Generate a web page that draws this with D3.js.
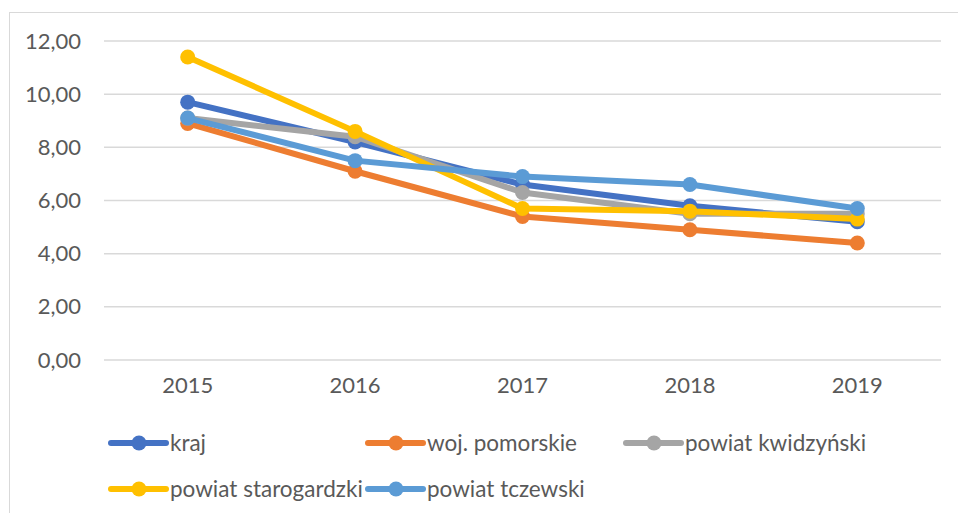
<!DOCTYPE html>
<html><head><meta charset="utf-8">
<script src="https://cdn.jsdelivr.net/npm/d3@7"></script>
<style>
html,body{margin:0;padding:0;background:#fff;}
svg{display:block;}
text{font-family:Lato,"Open Sans",sans-serif;fill:#595959;}
</style></head>
<body>
<svg id="chart" width="958" height="513"></svg>
<script>
const categories = ["2015","2016","2017","2018","2019"];
const seriesNames = ["kraj","woj. pomorskie","powiat kwidzyński","powiat starogardzki","powiat tczewski"];
const kraj = [9.7, 8.2, 6.6, 5.8, 5.2];
const wojPomorskie = [8.9, 7.1, 5.4, 4.9, 4.4];
const powiatKwidzynski = [9.1, 8.4, 6.3, 5.5, 5.5];
const powiatStarogardzki = [11.4, 8.6, 5.7, 5.6, 5.3];
const powiatTczewski = [9.1, 7.5, 6.9, 6.6, 5.7];
const yTicks = [0, 2, 4, 6, 8, 10, 12];
const colors = ["#4472C4","#ED7D31","#A5A5A5","#FFC000","#5B9BD5"];

const series = [kraj, wojPomorskie, powiatKwidzynski, powiatStarogardzki, powiatTczewski]
  .map((v,i)=>({name: seriesNames[i], values: v, color: colors[i]}));

const svg = d3.select("#chart");
const margin = {left:104, right:17, top:41, bottom:153};
const W = 958, H = 513;

svg.append("rect").attr("x",9.5).attr("y",12.5).attr("width",970).attr("height",520)
  .attr("fill","none").attr("stroke","#d9d9d9").attr("stroke-width",1);

const x = d3.scaleBand().domain(categories).range([margin.left, W - margin.right]);
const y = d3.scaleLinear().domain([0,12]).range([H - margin.bottom, margin.top]);

const fmt = d => d3.format(".2f")(d).replace(".", ",");

// gridlines
svg.append("g").selectAll("line").data(yTicks).join("line")
  .attr("x1", margin.left).attr("x2", W - margin.right)
  .attr("y1", d=>y(d)).attr("y2", d=>y(d))
  .attr("stroke","#d9d9d9").attr("stroke-width",1.5);

// y axis
const yAxis = svg.append("g").attr("transform",`translate(${margin.left},0)`)
  .call(d3.axisLeft(y).tickValues(yTicks).tickFormat(fmt).tickSize(0).tickPadding(23));
yAxis.select(".domain").remove();
yAxis.selectAll("text").style("font-size","22px").attr("fill","#595959");

// x axis
const xAxis = svg.append("g").attr("transform",`translate(0,${y(0)})`)
  .call(d3.axisBottom(x).tickSize(0).tickPadding(17));
xAxis.select(".domain").remove();
xAxis.selectAll("text").style("font-size","22px").attr("fill","#595959");

const line = d3.line().x((d,i)=>x(categories[i]) + x.bandwidth()/2).y(d=>y(d));

const g = svg.append("g");
series.forEach(s=>{
  g.append("path").datum(s.values).attr("d", line)
    .attr("fill","none").attr("stroke", s.color).attr("stroke-width",6)
    .attr("stroke-linejoin","round").attr("stroke-linecap","round");
  g.selectAll(null).data(s.values).join("circle")
    .attr("cx",(d,i)=>x(categories[i]) + x.bandwidth()/2).attr("cy", d=>y(d))
    .attr("r",7.5).attr("fill", s.color);
});

// legend
const legendPos = [[111,443],[368,443],[626,443],[111,489],[368,489]];
series.forEach((s,i)=>{
  const [lx,ly] = legendPos[i];
  const lg = svg.append("g").attr("transform",`translate(${lx},${ly})`);
  lg.append("line").attr("x1",0).attr("x2",55).attr("y1",0).attr("y2",0)
    .attr("stroke",s.color).attr("stroke-width",6).attr("stroke-linecap","round");
  lg.append("circle").attr("cx",28).attr("cy",0).attr("r",7.5).attr("fill",s.color);
  lg.append("text").attr("x",59).attr("y",0).attr("dy","0.35em")
    .style("font-size","22.5px").text(s.name);
});
</script>
</body></html>
